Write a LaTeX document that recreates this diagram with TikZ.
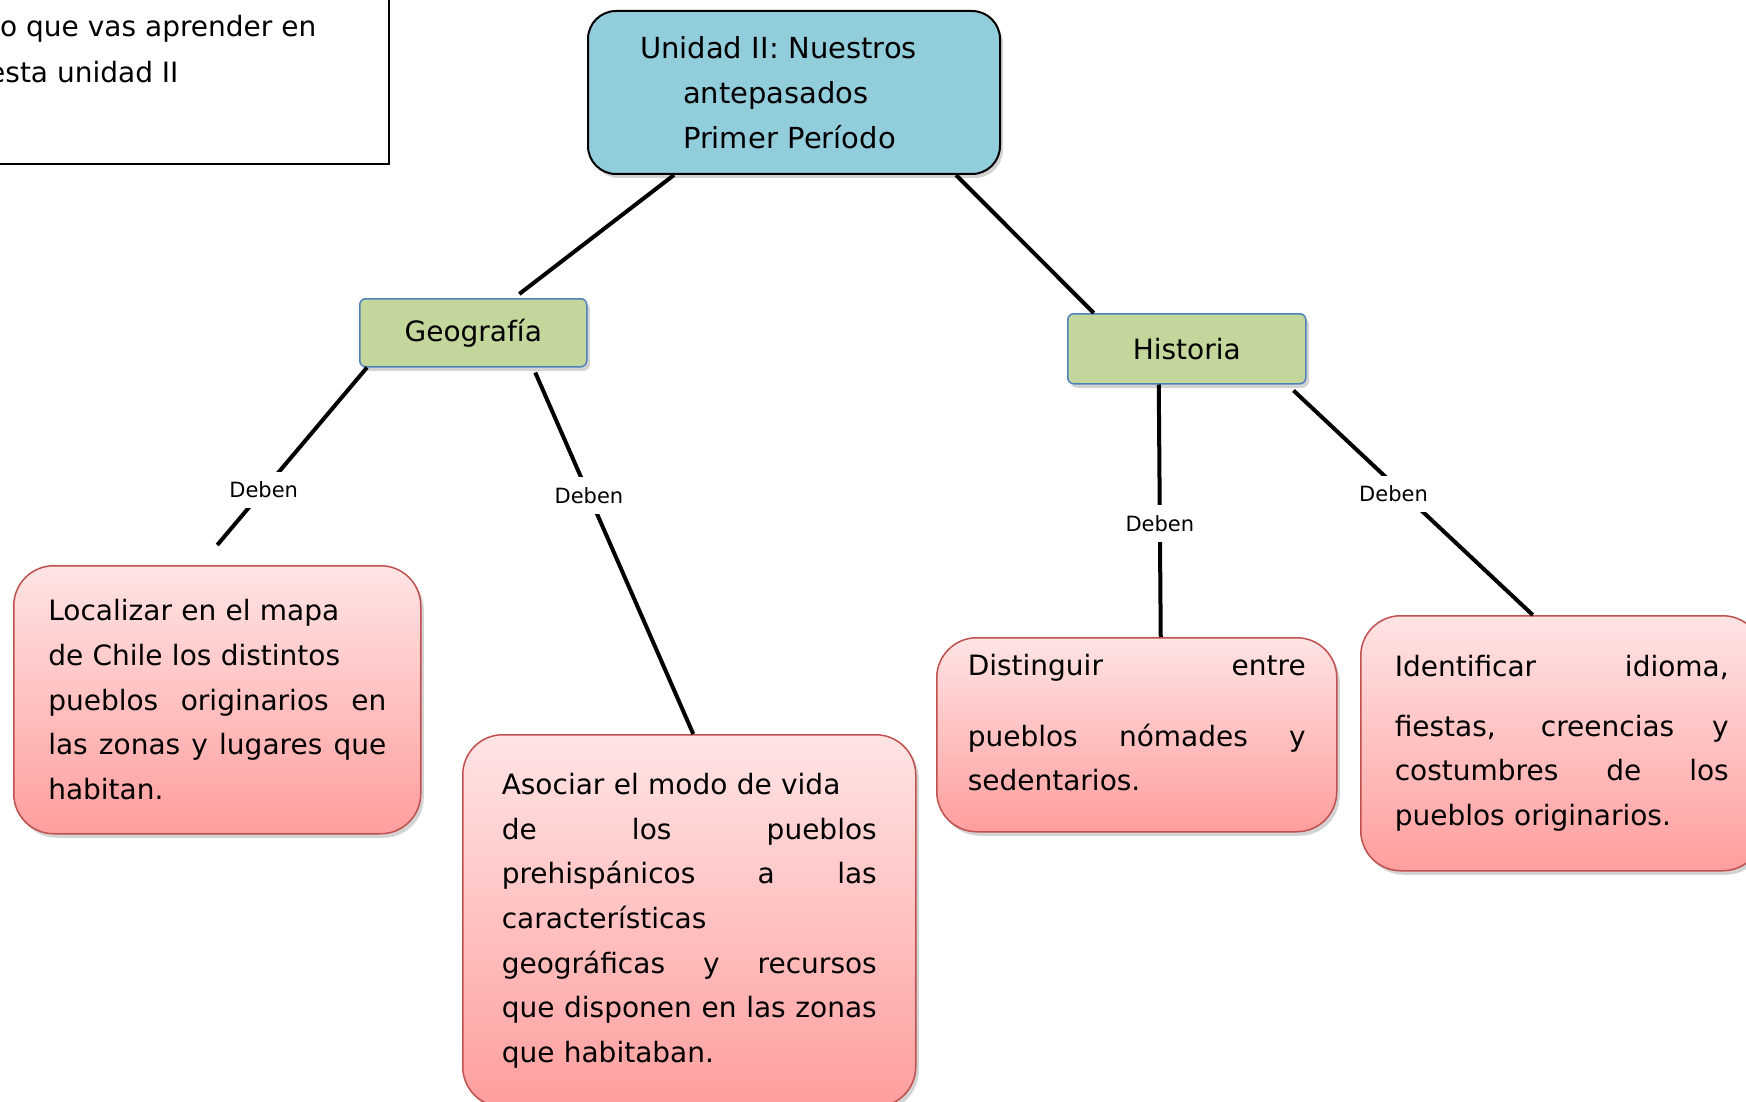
\documentclass[tikz,border=0pt]{standalone}
\usepackage{fontspec}
\setmainfont{DejaVu Sans}
\usetikzlibrary{shadows}
\setlength{\parindent}{0pt}
\definecolor{titlefill}{HTML}{92CDDC}
\definecolor{areafill}{HTML}{C3D69B}
\definecolor{areadraw}{HTML}{4F81BD}
\definecolor{goaltop}{HTML}{FFE4E4}
\definecolor{goalbot}{HTML}{FF9E9E}
\definecolor{goaldraw}{HTML}{C0504D}
\newcommand{\fullline}[1]{\makebox[\hsize][s]{\spaceskip=.3333em plus 1fil\relax #1}}

\begin{document}
\begin{tikzpicture}[x=1pt,y=-1pt,
    soft/.style={drop shadow={opacity=0.35,shadow xshift=3pt,shadow yshift=-4pt}},
    title/.style={soft,draw=black,line width=2pt,fill=titlefill,rounded corners=28pt,inner sep=0pt,anchor=north west,align=left,font=\fontsize{29}{45}\selectfont},
    area/.style={soft,draw=areadraw,line width=1.5pt,fill=areafill,rounded corners=6pt,inner sep=0pt,anchor=north west,font=\fontsize{28}{34}\selectfont},
    goal/.style={soft,draw=goaldraw,line width=1.5pt,top color=goaltop,bottom color=goalbot,rounded corners=40pt,inner sep=0pt,anchor=north west,align=left,font=\fontsize{28}{44.6}\selectfont},
    deben/.style={fill=white,inner sep=10pt,font=\fontsize{21}{25}\selectfont},
    link/.style={line width=4pt}]
  \useasboundingbox (0,0) rectangle (1746,1102);

  \draw[line width=1.5pt] (-10,-10) rectangle (389,164);
  \node[anchor=base west,inner sep=0pt,font=\fontsize{28}{34}\selectfont] (hint1) at (0,37) {o que vas aprender en};
  \node[anchor=base west,inner sep=0pt,font=\fontsize{28}{34}\selectfont] (hint2) at (-12,83) {esta unidad II};

  \node[title,minimum width=412,minimum height=163,text width=308] (top) at (587,10)
    {Unidad II: Nuestros\\ \hspace*{43pt}antepasados\\ \hspace*{43pt}Primer Período};

  \node[area,minimum width=227,minimum height=68] (geo) at (359,298) {Geografía};
  \node[area,minimum width=238,minimum height=70] (hist) at (1067,313) {Historia};

  \node[goal,minimum width=407,minimum height=268,text width=338] (loc) at (13,565)
    {Localizar en el mapa\\ de Chile los distintos\\ \fullline{pueblos originarios en}\\ \fullline{las zonas y lugares que}\\ habitan.};
  \node[goal,minimum width=453,minimum height=372,text width=375] (asoc) at (462,734)
    {Asociar el modo de vida\\ \fullline{de los pueblos}\\ \fullline{prehispánicos a las}\\ características\\ \fullline{geográficas y recursos}\\ \fullline{que disponen en las zonas}\\ que habitaban.};
  \node[goal,minimum width=400,minimum height=194,text width=338] (dist) at (936,637)
    {\fullline{Distinguir entre}\\[26pt] \fullline{pueblos nómades y}\\ sedentarios.\\[-20pt]\mbox{}};
  \node[goal,minimum width=402,minimum height=255,text width=334] (ident) at (1360,615)
    {\fullline{Identificar idioma,}\\[15pt] \fullline{fiestas, creencias y}\\ \fullline{costumbres de los}\\ pueblos originarios.};

  \draw[link] ([xshift=-120pt]top.south) -- ([xshift=46pt,yshift=4pt]geo.north);
  \draw[link] ([xshift=162pt]top.south) -- ([xshift=-93pt]hist.north);
  \draw[link] ([xshift=8pt]geo.south west) -- node[deben,pos=0.69] (d1) {Deben} ([yshift=20pt]loc.north);
  \draw[link] ([xshift=62pt,yshift=-5pt]geo.south) -- node[deben,pos=0.34] (d2) {Deben} ([xshift=4pt]asoc.north);
  \draw[link] ([xshift=-28pt]hist.south) -- node[deben,pos=0.55] (d3) {Deben} ([xshift=24pt]dist.north);
  \draw[link] ([xshift=-13pt,yshift=-6pt]hist.south east) -- node[deben,pos=0.46,xshift=-10pt] (d4) {Deben} ([xshift=-29pt]ident.north);
\end{tikzpicture}
\end{document}
